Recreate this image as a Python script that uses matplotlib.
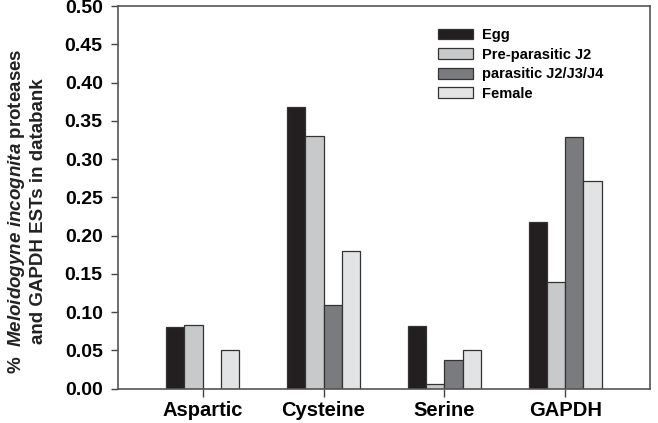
import matplotlib
matplotlib.use('Agg')
import matplotlib.pyplot as plt
import numpy as np

plt.rcParams['font.family'] = 'Liberation Sans'
plt.rcParams['font.weight'] = 'bold'
plt.rcParams['mathtext.fontset'] = 'custom'
plt.rcParams['mathtext.it'] = 'Liberation Sans:italic:bold'
plt.rcParams['mathtext.rm'] = 'Liberation Sans:bold'

# Dados
categorias = ['Aspartic', 'Cysteine', 'Serine', 'GAPDH']
series = ['Egg', 'Pre-parasitic J2', 'parasitic J2/J3/J4', 'Female']
egg = [0.081, 0.368, 0.082, 0.218]
pre_j2 = [0.083, 0.330, 0.006, 0.139]
parasitic = [0.0, 0.110, 0.037, 0.329]
female = [0.050, 0.180, 0.050, 0.271]
cores = ['#231f20', '#c8c9cb', '#7a7b7e', '#e2e3e4']

valores = [egg, pre_j2, parasitic, female]

fig = plt.figure(figsize=(6.58, 4.23), dpi=100)
ax = fig.add_axes([0.1793, 0.0811, 0.8085, 0.9047])

x = np.arange(len(categorias))
w = 0.15
for i, (vals, nome, cor) in enumerate(zip(valores, series, cores)):
    ax.bar(x + (i - 1.5) * w, vals, w, color=cor, edgecolor='#333333',
           linewidth=0.9, label=nome)

ax.set_xlim(-0.70, 3.70)
ax.set_ylim(0, 0.50)
ax.set_xticks(x)
ax.set_xticklabels(categorias, fontsize=14.5, fontweight='bold')
ax.set_yticks(np.arange(0, 0.501, 0.05))
ax.set_yticklabels([f'{v:.2f}' for v in np.arange(0, 0.501, 0.05)],
                   fontsize=14, fontweight='bold')
ax.tick_params(axis='x', direction='out', length=6, width=1, color='#444444', pad=3)
ax.tick_params(axis='y', direction='out', length=5, width=1, color='#444444', pad=6)
for s in ax.spines.values():
    s.set_color('#555555')
    s.set_linewidth(1.2)

ax.set_ylabel('%  $\\mathit{Meloidogyne\\ incognita}$ proteases\nand GAPDH ESTs in databank',
              fontsize=13.5, fontweight='bold', color='#222222')
ax.yaxis.set_label_coords(-0.1335, 0.465)

leg = ax.legend(loc='upper left', bbox_to_anchor=(0.6015, 0.942), frameon=False,
                fontsize=10.5, handlelength=2.4, handleheight=0.75,
                labelspacing=0.38, handletextpad=0.6, borderpad=0,
                borderaxespad=0)
for t in leg.get_texts():
    t.set_fontweight('bold')

plt.savefig('out.png', dpi=100)
